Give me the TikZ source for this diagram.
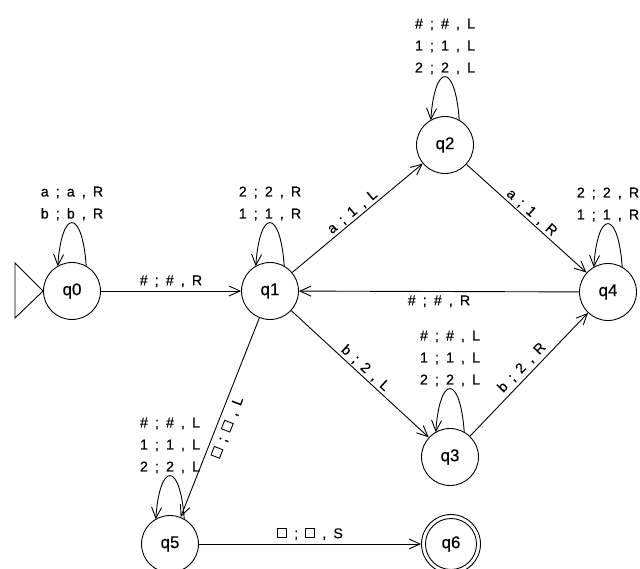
\documentclass[tikz,border=0pt]{standalone}
\usepackage{fontspec}
\setmainfont[FakeBold=0.5]{Liberation Sans}
\newfontfamily\lblfont[WordSpace=1.8,FakeBold=0.5]{Liberation Sans}
\newcommand\wsq{\mbox{\vrule width 0.9pt\vbox to 10pt{\hrule width 8.2pt height 0.9pt\vfil\hrule height 0.9pt}\vrule width 0.9pt}}
\usetikzlibrary{arrows.meta,calc}
\begin{document}
\begin{tikzpicture}[x=1pt,y=-1pt,
  state/.style={circle,draw,line width=0.9pt,minimum size=57pt,inner sep=0pt,font=\fontsize{17}{17}\selectfont},
  lbl/.style={font=\lblfont\fontsize{14.2}{22}\selectfont,inner sep=1.5pt,align=center},
  edge/.style={line width=0.9pt,-{Straight Barb[length=11pt,width=10pt,line width=0.9pt]}},
  plain/.style={line width=0.9pt}
]
\useasboundingbox (0,0) rectangle (640,568);
\node[state] (q0) at (72,291) {q0};
\node[state] (q1) at (270,291) {q1};
\node[state] (q2) at (445,145) {q2};
\node[state] (q4) at (608,292) {q4};
\node[state] (q3) at (450,457) {q3};
\node[state] (q5) at (170,544) {q5};
\node[state,minimum size=59pt] (q6) at (451,544) {q6};
\draw[plain] (q6.center) circle[radius=25.5];
% initial marker
\coordinate (i1) at (15,263);
\coordinate (i2) at (15,318);
\draw[plain] (i1) -- (i2) -- (q0.west) -- cycle;
% edges
\draw[edge] (q0) -- node[lbl,above=2pt] (e01) {\# ; \# , R} (q1);
\draw[edge] (q1) -- node[lbl,above,sloped] (e12) {a ; 1 , L} (q2);
\draw[edge] (q2) -- node[lbl,above,sloped] (e24) {a ; 1 , R} (q4);
\draw[edge] (q4) -- node[lbl,below=2pt] (e41) {\# ; \# , R} (q1);
\draw[edge] (q1) -- node[lbl,above,sloped] (e13) {b ; 2 , L} (q3);
\draw[edge] (q3) -- node[lbl,above=2pt,sloped] (e34) {b ; 2 , R} (q4);
\draw[edge] (q1) -- node[lbl,below=3pt,sloped,pos=0.53] (e15) {\wsq{} ; \wsq{} , L} (q5);
\draw[edge] (q5) -- node[lbl,above=2pt] (e56) {\wsq{} ; \wsq{} , S} (q6);
% loops
\foreach \s in {q0,q1,q2,q3,q4,q5}{
  \draw[edge] ($(\s)+(14.25,-24.7)$) .. controls +(-4,-58) and +(4,-58) .. ($(\s)+(-14.25,-24.7)$);
}
\node[lbl,anchor=south,inner sep=0.5pt] (l0) at ($(q0)+(0,-70)$) {a ; a , R\\b ; b , R};
\node[lbl,anchor=south,inner sep=0.5pt] (l1) at ($(q1)+(0,-70)$) {2 ; 2 , R\\1 ; 1 , R};
\node[lbl,anchor=south,inner sep=0.5pt] (l2) at ($(q2)+(0,-70)$) {\# ; \# , L\\1 ; 1 , L\\2 ; 2 , L};
\node[lbl,anchor=south,inner sep=0.5pt] (l4) at ($(q4)+(0,-70)$) {2 ; 2 , R\\1 ; 1 , R};
\node[lbl,anchor=south,inner sep=0.5pt] (l3) at ($(q3)+(0,-70)$) {\# ; \# , L\\1 ; 1 , L\\2 ; 2 , L};
\node[lbl,anchor=south,inner sep=0.5pt] (l5) at ($(q5)+(0,-70)$) {\# ; \# , L\\1 ; 1 , L\\2 ; 2 , L};
\end{tikzpicture}
\end{document}
